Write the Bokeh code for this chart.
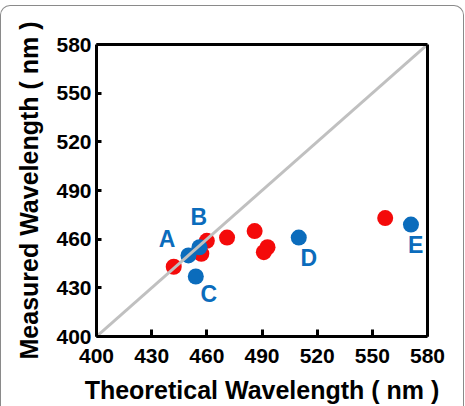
from bokeh.plotting import figure
from bokeh.models import Range1d, FixedTicker, ColumnDataSource, LinearAxis, InlineStyleSheet
from bokeh.core.properties import value
from bokeh.embed import file_html
from bokeh.resources import INLINE

# Data
red_x = [442, 457, 460, 471, 486, 493, 491, 557]
red_y = [443, 451, 459, 461, 465, 455, 452, 473]
blue_x = [450, 456, 454, 510, 571]
blue_y = [450, 455, 437, 461, 469]
label_text = ["A", "B", "C", "D", "E"]
label_x = [438.4, 455.6, 461.1, 515.5, 573.5]
label_y = [460.2, 473.6, 426.3, 448.3, 456.1]
ticks = [400, 430, 460, 490, 520, 550, 580]
diag = [400, 580]

FONT = "Liberation Sans"
RED = "#f40a0a"
BLUE = "#0b6cbc"

p = figure(width=465, height=406, output_backend="svg", toolbar_location=None,
           x_range=Range1d(400, 580), y_range=Range1d(400, 580),
           min_border_left=96, min_border_right=38, min_border_top=44, min_border_bottom=70)

p.grid.visible = False
p.background_fill_color = "white"
p.border_fill_color = "white"
p.outline_line_color = None

for ax in (p.xaxis[0], p.yaxis[0]):
    ax.ticker = FixedTicker(ticks=ticks)
    ax.axis_line_color = "black"
    ax.axis_line_width = 3
    ax.major_tick_out = 0
    ax.minor_tick_line_color = None
    ax.major_tick_line_color = "black"
    ax.major_tick_line_width = 3
    ax.major_label_text_font = FONT
    ax.major_label_text_font_style = "bold"
    ax.major_label_text_font_size = "21px"
    ax.major_label_text_color = "black"
    ax.axis_label_text_font = FONT
    ax.axis_label_text_font_style = "bold"
    ax.axis_label_text_font_size = "25px"
    ax.axis_label_text_color = "black"

p.xaxis.major_tick_in = 7
p.yaxis.major_tick_in = 5
p.xaxis.major_label_standoff = 12
p.yaxis.major_label_standoff = 5
p.xaxis.axis_label = "Theoretical Wavelength ( nm )"
p.yaxis.axis_label = "Measured Wavelength ( nm )"
p.xaxis.axis_label_standoff = 10
p.xaxis.axis_label_text_line_height = 0.8
p.yaxis.axis_label_standoff = 10

# frame lines on top and right
for loc in ("above", "right"):
    a = LinearAxis(ticker=FixedTicker(ticks=[]), axis_line_color="black", axis_line_width=3,
                   major_tick_line_color=None, minor_tick_line_color=None,
                   major_label_text_font_size="0px")
    p.add_layout(a, loc)

p.scatter(red_x, red_y, size=16, color=RED, line_color=None)
p.scatter(blue_x, blue_y, size=16, color=BLUE, line_color=None)
p.line(diag, diag, line_color="#c0c0c0", line_width=3)

src = ColumnDataSource(dict(x=label_x, y=label_y, t=label_text))
p.text(x="x", y="y", text="t", source=src, text_font=value(FONT), text_font_style="bold",
       text_font_size="23px", text_color=BLUE, text_align="center", text_baseline="middle")

css = (":host { position: relative; }"
       ":host::after { content: ''; position: absolute; left: 0px; top: 5px; width: 464px; height: 401px;"
       " box-sizing: border-box; border: 1px solid #8a8a8a; border-bottom: none;"
       " border-radius: 10px 10px 0 0; pointer-events: none; }")
p.stylesheets = [InlineStyleSheet(css=css)]

open("out.html", "w").write(file_html(p, INLINE))
